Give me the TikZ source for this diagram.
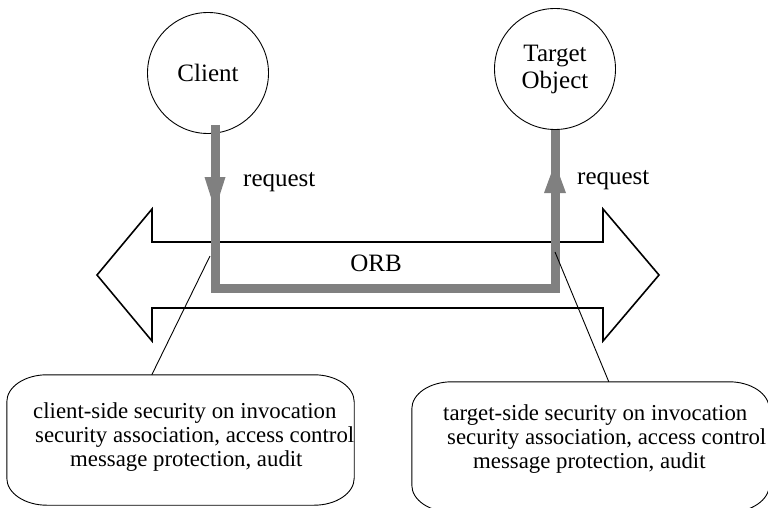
\documentclass[tikz,border=0pt]{standalone}
\usepackage{fontspec}
\setmainfont{Liberation Serif}
\usetikzlibrary{calc}
\definecolor{flowgray}{RGB}{128,128,128}
\tikzset{
  actor/.style={draw, circle, minimum size=121pt, inner sep=0pt, line width=0.9pt,
    font=\fontsize{25}{27}\selectfont, align=center},
  lbl/.style={inner sep=0pt, font=\fontsize{25}{29}\selectfont},
  note/.style={inner sep=0pt, font=\fontsize{22.8}{24}\selectfont, align=left},
  boxarea/.style={draw=none, inner sep=0pt},
  flow/.style={draw=flowgray, line width=9pt, line join=miter, line cap=butt},
  orbline/.style={line width=1.6pt, line join=miter},
  thinline/.style={line width=0.9pt},
}
\newcommand\ovalframe[1]{%
  \draw[thinline] ($(#1.north west)+(40,0)$) -- ($(#1.north east)+(-40,0)$)
    arc[start angle=-90,end angle=0,x radius=40,y radius=27]
    -- ($(#1.south east)+(0,-27)$)
    arc[start angle=0,end angle=90,x radius=40,y radius=27]
    -- ($(#1.south west)+(40,0)$)
    arc[start angle=90,end angle=180,x radius=40,y radius=27]
    -- ($(#1.north west)+(0,27)$)
    arc[start angle=180,end angle=270,x radius=40,y radius=27] -- cycle;}
\begin{document}
\begin{tikzpicture}[x=1pt,y=-1pt]
\useasboundingbox (0,0) rectangle (768,508);
\clip (0,0) rectangle (768,508);

% ORB double arrow
\draw[orbline] (97,275) -- (152,209) -- (152,242) -- (603,242) -- (603,209)
  -- (659,275) -- (603,341) -- (603,308) -- (152,308) -- (152,341) -- cycle;
\node[lbl] (orb) at (376,263) {ORB};

% actors
\node[actor] (client) at (208,73) {Client};
\node[actor] (target) at (555,69) {Target\\Object};

% request flow
\coordinate (bl) at (215,288);
\coordinate (br) at (555,288);
\coordinate (cstart) at ($(client.south -| bl)+(0,-9)$);
\draw[flow] (cstart) -- (bl) -- (br) -- (target.south);
\fill[flowgray] (204.5,177) -- (225.5,177) -- (215,210) -- cycle;
\fill[flowgray] (544,193) -- (566,193) -- (555,163) -- cycle;
\node[lbl, anchor=west] (req1) at (243,182) {request};
\node[lbl, anchor=west] (req2) at (577,180) {request};

% callouts
\node[boxarea, minimum width=347pt, minimum height=130pt] (cs) at (180.5,440) {};
\node[boxarea, minimum width=357pt, minimum height=130pt] (ts) at (590.5,447) {};
\ovalframe{cs}
\ovalframe{ts}
\node[note, anchor=base west] (cst) at (33,466)
  {client-side security on invocation\\\hspace*{2pt}security association, access control\\\hspace*{37pt}message protection, audit};
\node[note, anchor=base west] (tst) at (443,468)
  {target-side security on invocation\\\hspace*{4pt}security association, access control\\\hspace*{30pt}message protection, audit};

% pointers
\coordinate (lp) at (210,256);
\coordinate (rp) at (555,252);
\draw[thinline] (lp) -- ($(cs.north west)+(145,0)$);
\draw[thinline] (rp) -- ($(ts.north west)+(197,0)$);
\end{tikzpicture}
\end{document}
